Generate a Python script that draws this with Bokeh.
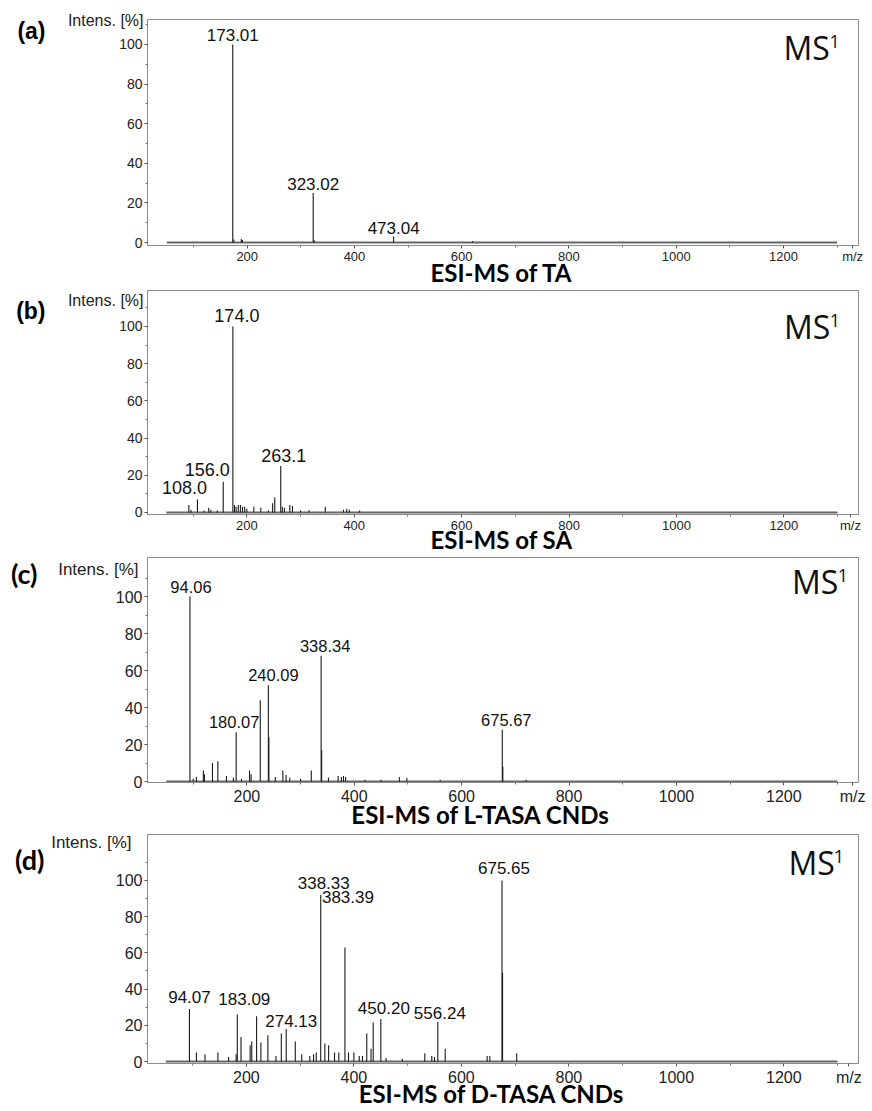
from bokeh.plotting import figure
from bokeh.models import Label, FixedTicker, Range1d, ColumnDataSource, LinearAxis
from bokeh.layouts import column
from bokeh.embed import file_html
from bokeh.resources import INLINE

# ---------------- data ----------------
scan_mz = [50, 1300]

mz_a = [173.01, 175.0, 189.0, 191.0, 323.02, 325.0, 473.04, 620.0]
int_a = [100, 1.5, 1.8, 1.3, 25, 1.2, 3, 0.8]
labels_a = ["173.01", "323.02", "473.04"]

mz_b = [92, 96, 108.0, 120, 129, 133, 145, 156.0, 174.0, 177, 180, 184, 188, 192, 196, 200,
        213, 226, 240, 248, 252, 263.1, 266, 270, 280, 285, 300, 316, 346, 380, 386, 391, 410]
int_b = [4, 1.5, 7, 1, 2.5, 1.5, 1, 16.5, 100, 4, 3, 4, 4, 3, 3, 2,
         3, 2.5, 1, 5, 8, 25, 3, 2.5, 4, 3.5, 1, 1.2, 3, 1.5, 2, 1.5, 1]
labels_b = ["108.0", "156.0", "174.0", "263.1"]

mz_c = [94.06, 100, 106, 119, 121, 136, 146, 162, 175, 180.07, 190, 205, 208, 225, 240.09, 241.1,
        253, 267, 273, 280, 300, 320, 338.34, 339.3, 352, 370, 376, 380, 384, 420, 450, 484, 498,
        560, 675.67, 676.7, 720]
int_c = [100, 1.5, 2.6, 6, 4, 10, 11, 3, 2, 26.6, 1.5, 6, 4, 44, 52, 24,
         2.5, 6, 3.5, 2, 1.5, 6, 68, 17, 2, 3, 2.5, 3, 2.5, 1, 1, 2.5, 2,
         1, 28, 8, 1]
labels_c = ["94.06", "180.07", "240.09", "338.34", "675.67"]

mz_d = [94.07, 107, 123, 147, 167, 181, 183.09, 190, 207, 210, 219, 227, 240, 255, 265, 274.13,
        291, 303, 318, 325, 330, 338.33, 346, 353, 364, 372, 383.39, 390, 400, 410, 416, 424, 432,
        436, 450.20, 460, 490, 532, 545, 550, 556.24, 570, 648, 653, 675.65, 676.66, 703]
int_d = [29, 5, 4, 5, 2.5, 4, 26, 13.5, 9, 11, 25, 10.5, 14.5, 3, 15.5, 18,
         11, 4, 3, 4, 5, 92, 10, 9, 5, 5, 63, 5, 5, 3, 3, 15.5, 7,
         21.5, 23.5, 2, 1.5, 4.5, 3, 2.5, 22, 7, 3, 3, 100, 49, 4.5]
labels_d = ["94.07", "183.09", "274.13", "338.33", "383.39", "450.20", "556.24", "675.65"]

titles = ["ESI-MS of TA", "ESI-MS of SA", "ESI-MS of L-TASA CNDs", "ESI-MS of D-TASA CNDs"]
letters = ["(a)", "(b)", "(c)", "(d)"]
y_title = "Intens. [%]"
x_title = "m/z"
y_ticks = [0, 20, 40, 60, 80, 100]
y_minor = [10, 30, 50, 70, 90, 110]
x_ticks = [200, 400, 600, 800, 1000, 1200]
x_minor = [100, 300, 500, 700, 900, 1100, 1300]

# ---------------- styles / layout (pixels) ----------------
# c0/c1: canvas top/bottom on the page; ft/fb/fl/fr: frame edges on the page
panels = [
    dict(mz=mz_a, it=int_a, labels=labels_a, c0=0, c1=289, ft=19, fb=246, fl=147, fr=858,
         yr=(-1.5, 112.6), xr=(14, 1340),
         lab_off={"173.01": (0, 3), "323.02": (0, 3), "473.04": (0, 2)}, lab_fs=17,
         xt_fs=13, yt_fs=14, int_fs=16, int_pos=(143, 20), int_adj=-3,
         let_pos=(44, 31), let_adj=-7, let_font="Liberation Sans", let_fs=23,
         ms_pos=(783, 47), mz_px=852, ti_cx=501, ti_s=-9),
    dict(mz=mz_b, it=int_b, labels=labels_b, c0=289, c1=556, ft=290, fb=515, fl=145, fr=860,
         yr=(-1.1, 119.3), xr=(15, 1339),
         lab_off={"108.0": (-13, 5), "156.0": (-16, 6), "174.0": (4, 4), "263.1": (3, 4)}, lab_fs=18,
         xt_fs=13, yt_fs=14, int_fs=16, int_pos=(142, 300), int_adj=-2,
         let_pos=(43, 311), let_adj=-6, let_font="Liberation Sans", let_fs=23,
         ms_pos=(785, 326), mz_px=852, ti_cx=501, ti_s=-11),
    dict(mz=mz_c, it=int_c, labels=labels_c, c0=556, c1=832, ft=557, fb=782, fl=143, fr=860,
         yr=(-0.5, 121.1), xr=(15, 1339),
         lab_off={"94.06": (1, 4), "180.07": (-2, 4), "240.09": (5, 4), "338.34": (4, 4), "675.67": (4, 4)},
         lab_fs=16.5, xt_fs=16, yt_fs=16, int_fs=17, int_pos=(137, 562), int_adj=0,
         let_pos=(38, 572), let_adj=-1, let_font="Lato", let_fs=27,
         ms_pos=(793, 581), mz_px=854, ti_cx=479, ti_s=-8),
    dict(mz=mz_d, it=int_d, labels=labels_d, c0=832, c1=1111, ft=834, fb=1063, fl=142, fr=863,
         yr=(-1.1, 125.4), xr=(16, 1339),
         lab_off={"94.07": (0, 6), "183.09": (7, 9), "274.13": (5, 2), "338.33": (3, 6), "383.39": (3, 44),
                  "450.20": (3, 5), "556.24": (2, 3), "675.65": (2, 6)},
         lab_fs=17, xt_fs=16, yt_fs=16, int_fs=17, int_pos=(129, 842), int_adj=0,
         let_pos=(43, 859), let_adj=-2, let_font="Lato", let_fs=27,
         ms_pos=(792, 862), mz_px=853, ti_cx=491, ti_s=-10),
]

FRAME = "#8c8c8c"
INK = "#1a1a1a"
W = 872


def hidden_axis(tick, text, font, size, style, standoff):
    ax = LinearAxis(ticker=FixedTicker(ticks=[tick]), major_label_overrides={tick: text})
    ax.axis_line_color = None
    ax.major_tick_line_color = None
    ax.minor_tick_line_color = None
    ax.major_tick_out = 0
    ax.major_tick_in = 0
    ax.minor_tick_out = 0
    ax.minor_tick_in = 0
    ax.major_label_standoff = int(round(standoff))
    ax.major_label_text_font = font
    ax.major_label_text_font_size = f"{size}px"
    ax.major_label_text_font_style = style
    ax.major_label_text_color = "#000000"
    return ax


figs = []
for i, cfg in enumerate(panels):
    H = cfg["c1"] - cfg["c0"]
    ft = cfg["ft"] - cfg["c0"]
    fb = cfg["fb"] - cfg["c0"]
    fl, fr = cfg["fl"], cfg["fr"]
    x0, x1 = cfg["xr"]
    y0, y1 = cfg["yr"]

    def xval(px):
        return x0 + (px - fl) * (x1 - x0) / (fr - fl)

    def yval(py_page):
        return y0 + (cfg["fb"] - py_page) * (y1 - y0) / (cfg["fb"] - cfg["ft"])

    p = figure(width=W, height=H, x_range=Range1d(x0, x1), y_range=Range1d(y0, y1),
               output_backend="svg", toolbar_location=None,
               min_border_left=fl, min_border_right=W - fr,
               min_border_top=ft, min_border_bottom=H - fb)
    p.xgrid.visible = False
    p.ygrid.visible = False
    p.outline_line_color = FRAME
    p.outline_line_width = 1
    p.background_fill_color = "white"
    p.border_fill_color = "white"

    xa = p.xaxis[0]
    ya = p.yaxis[0]
    mz_tick = round(xval(cfg["mz_px"]))
    xa.ticker = FixedTicker(ticks=x_ticks + [mz_tick], minor_ticks=x_minor)
    xa.major_label_overrides = {mz_tick: x_title}
    ya.ticker = FixedTicker(ticks=y_ticks, minor_ticks=y_minor)
    for ax, fs in ((xa, cfg["xt_fs"]), (ya, cfg["yt_fs"])):
        ax.axis_line_color = FRAME
        ax.major_tick_line_color = "#555555"
        ax.minor_tick_line_color = "#777777"
        ax.major_tick_out = 3
        ax.major_tick_in = 0
        ax.minor_tick_out = 2
        ax.minor_tick_in = 0
        ax.major_label_text_font = "Liberation Sans"
        ax.major_label_text_font_size = f"{fs}px"
        ax.major_label_text_color = "#222222"
    xa.major_label_standoff = 0 if cfg["xt_fs"] < 15 else 2
    ya.major_label_standoff = 2

    # "Intens. [%]" on a second left axis, pulled back over the numeric tick labels
    ya_w = 3 + 2 + 3 * 0.556 * cfg["yt_fs"]
    ax2_line = fl - ya_w
    int_right, int_cy = cfg["int_pos"]
    s2 = ax2_line - int_right + cfg["int_adj"]
    int_w = 4.725 * cfg["int_fs"]
    ax2 = hidden_axis(round(yval(int_cy), 1), y_title, "Liberation Sans", cfg["int_fs"], "normal", s2)
    ax2.major_label_text_color = "#222222"
    p.add_layout(ax2, "left")
    # panel letter on a third left axis
    ax3_line = ax2_line - (s2 + int_w)
    let_right, let_cy = cfg["let_pos"]
    ax3 = hidden_axis(round(yval(let_cy), 1), letters[i], cfg["let_font"], cfg["let_fs"], "bold",
                      ax3_line - let_right + cfg["let_adj"])
    p.add_layout(ax3, "left")

    # bottom title on a second bottom axis, pulled up towards the tick labels
    axt = hidden_axis(round(xval(cfg["ti_cx"]), 1), titles[i], "Lato", 24, "bold", cfg["ti_s"])
    p.add_layout(axt, "below")

    # baseline of the scan
    p.segment(x0=[scan_mz[0]], y0=[0], x1=[scan_mz[1]], y1=[0],
              line_color="#666666", line_width=2)
    # peaks
    src = ColumnDataSource(dict(mz=cfg["mz"], h=cfg["it"]))
    p.segment(x0="mz", y0=0, x1="mz", y1="h", source=src, line_color=INK, line_width=1.1)

    # peak labels
    for t in cfg["labels"]:
        m = float(t)
        idx = min(range(len(cfg["mz"])), key=lambda k: abs(cfg["mz"][k] - m))
        dx, dy = cfg["lab_off"][t]
        p.add_layout(Label(x=m, y=cfg["it"][idx], x_offset=dx, y_offset=dy + 0.36 * cfg["lab_fs"], text=t,
                           text_align="center", text_baseline="middle",
                           text_font="Liberation Sans", text_font_size=f"{cfg['lab_fs']}px",
                           text_color="#111111"))

    # MS^1 inside the frame
    ms_x, ms_cy = cfg["ms_pos"]
    p.add_layout(Label(x=xval(ms_x), y=yval(ms_cy), text="MS",
                       text_align="left", text_baseline="middle",
                       text_font="Open Sans", text_font_size="32px", text_color="#111111"))
    p.add_layout(Label(x=xval(ms_x + 46), y=yval(ms_cy - 6), text="1",
                       text_align="left", text_baseline="middle",
                       text_font="Open Sans", text_font_size="18px", text_color="#111111"))
    figs.append(p)

layout = column(*figs, spacing=0)
open("out.html", "w").write(file_html(layout, INLINE))
